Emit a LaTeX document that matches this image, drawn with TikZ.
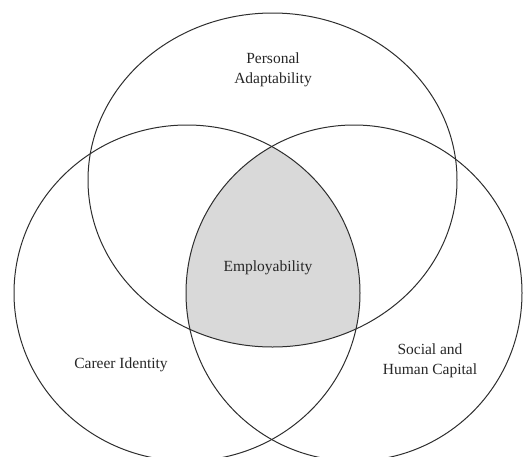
\documentclass[tikz,border=0pt]{standalone}
\usepackage{fontspec}
\setmainfont{Liberation Serif}
\usepackage{xcolor}
\usepackage{tikz}
\definecolor{cLine}{HTML}{2E2E2E}
\definecolor{cCore}{HTML}{D9D9D9}
\tikzset{
  set/.style   = {draw=cLine, line width=1pt},
  lab/.style   = {align=center, font=\fontsize{15.5}{20}\selectfont, text=black!85},
}

\begin{document}
\begin{tikzpicture}[x=1pt, y=-1pt]
  \useasboundingbox (0,0) rectangle (530,456);

  % ---- shaded core: all three sets overlap ----
  \begin{scope}
    \clip (272.5,180) ellipse [x radius=184.5, y radius=167];
    \clip (187,293) ellipse [x radius=173, y radius=168];
    \fill[cCore] (354,293) ellipse [x radius=168, y radius=168];
  \end{scope}

  % ---- the three sets ----
  \draw[set] (272.5,180) ellipse [x radius=184.5, y radius=167];
  \draw[set] (187,293) ellipse [x radius=173, y radius=168];
  \draw[set] (354,293) ellipse [x radius=168, y radius=168];

  % ---- labels ----
  \node[lab] (adapt) at (273,70) {Personal\\Adaptability};
  \node[lab] (core) at (268,268) {Employability};
  \node[lab] (ident) at (121,365) {Career Identity};
  \node[lab] (capital) at (430,361) {Social and\\Human Capital};
\end{tikzpicture}
\end{document}
